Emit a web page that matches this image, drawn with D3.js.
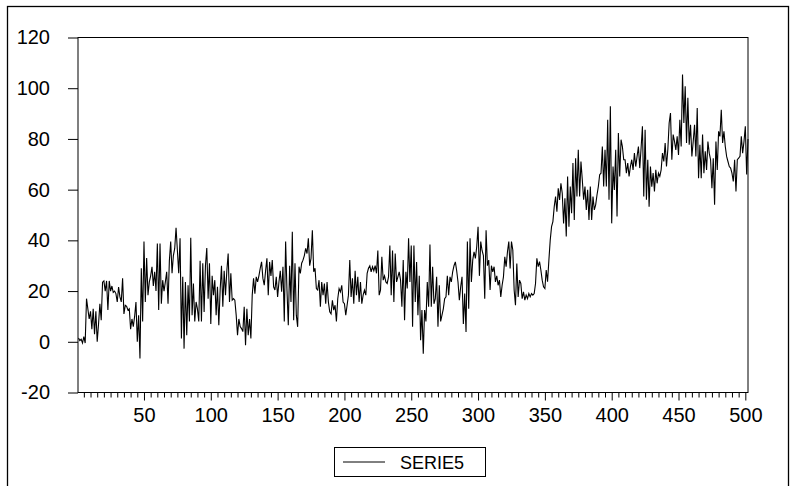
<!DOCTYPE html>
<html>
<head>
<meta charset="utf-8">
<script src="https://cdn.jsdelivr.net/npm/d3@7"></script>
<style>
    body { margin: 0; background: #fff; }
    svg text { font-family: "Liberation Sans", Arial, sans-serif; fill: #000; }
</style>
</head>
<body>
<svg id="chart" width="794" height="486"></svg>
<script>
let serie5 = [
    1.5, 0.5, 1, -0.5, 2, -0.5, 17, 13, 9, 12, 5, 13, 3, 12, 0, 7, 15, 8.5, 23.5, 24,
    20, 24, 12.5, 24, 20, 22, 19.5, 20, 19, 15.7, 21.6, 17.7, 15.7, 25, 11, 14.4, 14, 12.5, 13, 5,
    9,
    6, 10, 15.7, 0, 10.5, -6.6, 29, 8, 39.5, 15.7, 33, 18.4, 23.6, 26, 29.6, 22, 27.6, 20, 38.8,
    12.5, 38.8, 15, 24.3, 20, 23.6, 27.6, 15, 32, 39.5, 27, 34, 36.8, 45, 36, 27, 40.8, 1.3, 25.6,
    -2.7, 23.6, 2.6, 22.3, 8, 41, 10.5, 23, 8, 15.7, 13,
    8, 32, 8, 31, 11.8, 30, 37, 17, 31, 7, 26, 18.4, 24.3, 10.5, 21.7, 6.5, 20.4, 30, 13.8, 28,
    18.4, 28, 34.8, 15.7, 27, 16.4, 17, 16.4, 10.5, 2.6, 9, 6, 5.2, 4, 13.8, -1.4, 13, 2.6, 9, 1.3,
    18.4, 25, 19, 25.6, 23.6,
    26, 29, 31.5, 25, 22.3, 28, 32.9, 18.4, 31.5, 26, 32.2, 21.7, 20.4, 25.6, 17.7, 23.6, 28, 19.7, 29.6, 8,
    39.5, 20.4, 6.5, 30, 15.7, 43.4, 8.5, 31, 10.5, 5.9, 29.6, 27, 31, 32.2, 34, 36.8, 34.8, 40.8, 30, 32.9,
    44, 27.6, 29, 21, 20.4,
    24.3, 13.8, 23.6, 18.4, 23, 15, 23.6, 15.7, 11.8, 11, 16.4, 12.5, 14.4, 8, 17, 21, 19.7, 22.3, 15.7, 15,
    10.5, 14.4, 18.4, 32.2, 17.7, 25, 15, 28, 18.4, 25.6, 15.7, 23.6, 15, 18.4, 20.4, 18.4, 27, 29, 30, 27.6,
    29.6, 28, 30, 27, 36, 18.4,
    20.4, 33.5, 24.3, 26, 23.6, 23, 25.6, 38, 18.4, 36, 15.7, 34.8, 23.6, 25.6, 27.6, 24.3, 13.8, 32.2, 8.5, 27.6,
    21, 40.8, 23.6, 38, 5.9, 38, 15.7, 31.5, 10.5, 26, 0.6, 12.5, -4.7, 12.5, 8, 23.6, 13.8, 38.4, 13.8, 29.6,
    15, 17, 25.6, 5.9, 22.3,
    8, 10.5, 13, 17, 17.7, 26, 18.4, 25.6, 23.6, 27.6, 30, 31.5, 28, 23.6, 16.4, 21.7, 25.6, 7, 19, 3.9,
    39.5, 13, 40.8, 23.6, 32.2, 35.5, 32.9, 37.5, 45.4, 26, 39.5, 36, 34, 17, 44, 30, 32.2, 20.4, 30, 27.6,
    29.6, 23.6, 26, 22.3, 24.3, 17.7,
    22.3, 25.6, 33.5, 29.6, 35.5, 39.5, 28.9, 39.5, 36.2, 20.4, 14.4, 30.9, 17.7, 24.3, 23, 17, 19.7, 16.4, 18.4, 17,
    19, 17.7, 19, 18.4, 19, 23, 32.9, 29.6, 31.6, 28.3, 24.3, 21.7, 21, 28.3, 23.7, 32.2, 40.1, 45.4, 47.4, 53.3,
    57.3, 51.3, 60.5, 55.9, 62.5, 58.6,
    46.7, 56.6, 41.5, 65.2, 45.4, 61.2, 50.7, 70.5, 48, 72.4, 57.3, 75.7, 57.3, 71.1, 63.9, 56, 61.2, 52, 59.9, 48,
    61.2, 48, 57.3, 52, 54, 57.9, 61.2, 65.9, 66.5, 77, 61.2, 75.7, 61.2, 87.6, 56, 92.9, 46.7, 69.1, 59.9, 75.7,
    49.4, 82.3, 65.2, 79.7, 77, 71.8,
    71.8, 66.5, 70.5, 65.2, 69.1, 71.8, 67.8, 74.4, 69.1, 73.1, 77, 68.5, 76.4, 85, 57.3, 83.6, 56, 71.8, 53.3, 69.1,
    61.2, 66.5, 59.3, 67.8, 62.5, 66.5, 65.2, 67.8, 74.4, 71.1, 78.4, 69.1, 75.7, 86.3, 90.2, 71.8, 81.7, 79, 75.7, 81,
    73.7, 87.6, 77, 105.4, 86.3,
    100.8, 78.4, 96.2, 77.7, 85.6, 73.1, 79, 85.6, 73.1, 92.2, 64.5, 77.7, 64.5, 81.7, 66.5, 75.1, 67.8, 79, 74.4, 71.8,
    60.6, 72.4, 54, 79, 67.8, 83, 81, 91.5, 78.4, 83, 77, 73.1, 71.1, 69.1, 68.5, 66.5, 63.2, 71.8, 59.3, 71.8,
    72.4, 73.1, 81, 74.4, 79, 85, 66, 80
];
let yTicks = [-20, 0, 20, 40, 60, 80, 100, 120];
let xTickLabels = [50, 100, 150, 200, 250, 300, 350, 400, 450, 500];
let legendLabel = "SERIE5";

let svg = d3.select('svg#chart');
let plot = {left: 78, right: 748, top: 37.5, bottom: 392.5};

// outer frame
svg.append('rect')
    .attr('x', 7.5).attr('y', 6.5)
    .attr('width', 781).attr('height', 490)
    .attr('fill', 'none').attr('stroke', '#000').attr('stroke-width', 1.3);

let xScale = d3.scaleLinear()
    .domain([1, serie5.length])
    .range([plot.left + 0.5, plot.right]);
let yScale = d3.scaleLinear()
    .domain([-20, 120])
    .range([plot.bottom, plot.top]);

// y axis (plain hyphen for negatives, like the original)
let yAxis = d3.axisLeft(yScale)
    .tickValues(yTicks)
    .tickFormat(d => String(d))
    .tickSize(10)
    .tickPadding(18)
    .tickSizeOuter(0);
svg.append('g')
    .attr('transform', 'translate(' + plot.left + ',0)')
    .call(yAxis)
    .call(g => g.select('.domain').remove())
    .selectAll('text')
    .style('font-size', '20px');

// x axis: minor ticks every 5 obs, labelled ones every 50
let minor = d3.range(5, 501, 5).filter(d => d % 50 !== 0);
svg.append('g')
    .attr('transform', 'translate(0,' + plot.bottom + ')')
    .call(d3.axisBottom(xScale).tickValues(minor).tickSize(5).tickFormat('').tickSizeOuter(0))
    .call(g => g.select('.domain').remove());
svg.append('g')
    .attr('transform', 'translate(0,' + plot.bottom + ')')
    .call(d3.axisBottom(xScale).tickValues(xTickLabels).tickSize(8).tickPadding(7).tickSizeOuter(0))
    .call(g => g.select('.domain').remove())
    .selectAll('text')
    .style('font-size', '20px');

svg.selectAll('.tick line').attr('stroke', '#000');

// plot box
svg.append('rect')
    .attr('x', plot.left).attr('y', plot.top)
    .attr('width', plot.right - plot.left).attr('height', plot.bottom - plot.top)
    .attr('fill', 'none').attr('stroke', '#000').attr('stroke-width', 1);

// the series
let line = d3.line()
    .x((d, i) => xScale(i + 1))
    .y(d => yScale(d));
svg.append('path')
    .datum(serie5)
    .attr('d', line)
    .attr('fill', 'none')
    .attr('stroke', '#000')
    .attr('stroke-width', 1.1);

// legend
let legend = svg.append('g').attr('transform', 'translate(334,447)');
legend.append('rect')
    .attr('x', 0.5).attr('y', 0.5)
    .attr('width', 151).attr('height', 29)
    .attr('fill', '#fff').attr('stroke', '#000');
legend.append('line')
    .attr('x1', 9).attr('x2', 51)
    .attr('y1', 15).attr('y2', 15)
    .attr('stroke', '#000');
legend.append('text')
    .attr('x', 66).attr('y', 22)
    .style('font-size', '18px')
    .text(legendLabel);
</script>
</body>
</html>
